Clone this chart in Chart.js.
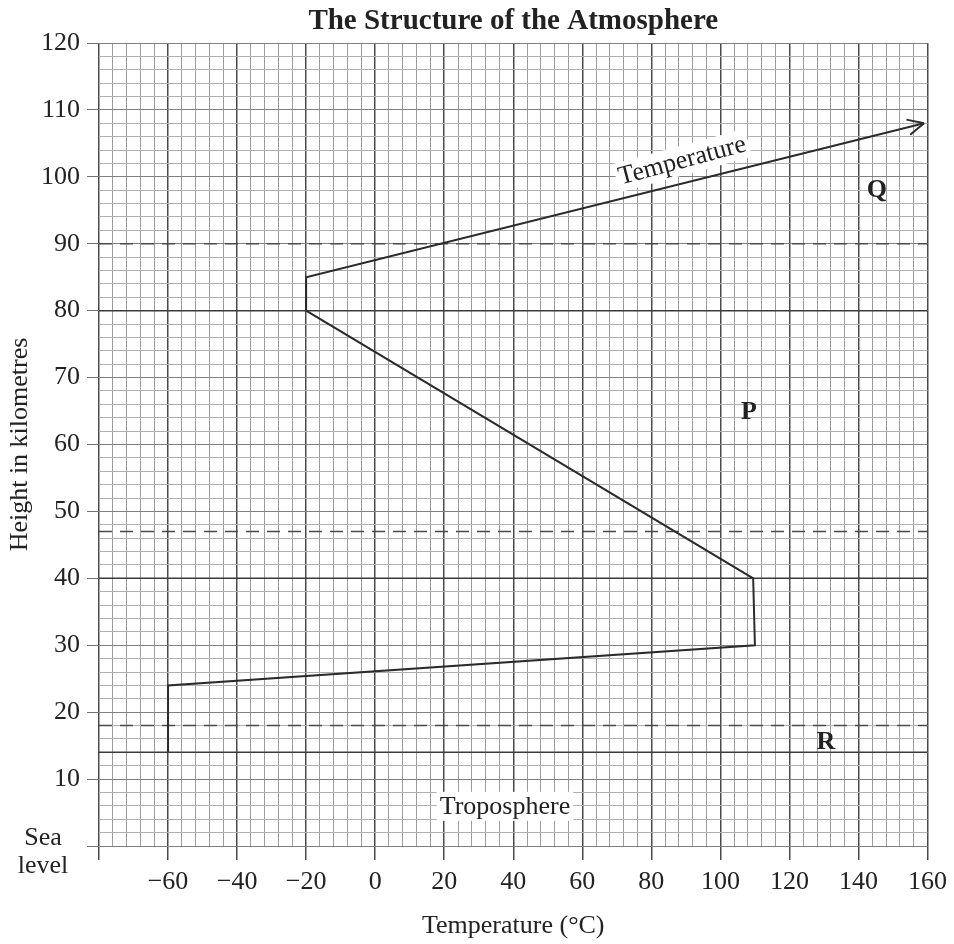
<!DOCTYPE html>
<html>
<head>
<meta charset="utf-8">
<script src="https://cdn.jsdelivr.net/npm/chart.js@4/dist/chart.umd.min.js"></script>
<style>
html, body { margin: 0; padding: 0; background: #fff; }
</style>
</head>
<body>
<canvas id="grafico" width="954" height="944"></canvas>
<script>
// temperature profile: temperature (°C) against height (km)
const tempC    = [-60, -60, 110, 109.5, -20, -20, 159];
const heightKm = [14, 24, 30, 40, 80, 85, 108];

// layer boundaries (km)
const solidLevels  = [14, 40, 80];
const dashedLevels = [18, 47, 90];

// tick labels
const xTickLabels = [-60, -40, -20, 0, 20, 40, 60, 80, 100, 120, 140, 160];
const yTickLabels = [10, 20, 30, 40, 50, 60, 70, 80, 90, 100, 110, 120];

// words written on the graph, anchored in data units
const noteText = ["Q", "P", "R", "Troposphere", "Temperature"];
const noteX    = [145.3, 108.3, 130.6, 37.6, 88.9];
const noteY    = [98.2, 64.9, 15.7, 6, 102.5];

const chartTitle = "The Structure of the Atmosphere";

const serif = "'Liberation Serif', 'Times New Roman', serif";
const ink = "#222";

const minus = v => String(v).replace("-", "\u2212");

let datasets = [
  {
    data: tempC.map((t, i) => ({ x: t, y: heightKm[i] })),
    showLine: true,
    borderColor: "#2b2b2b",
    borderWidth: 2,
    pointRadius: 0,
    tension: 0
  }
];
solidLevels.forEach(h => datasets.push({
  data: [{ x: -80, y: h }, { x: 160, y: h }],
  showLine: true, borderColor: "#3c3c3c", borderWidth: 1.5, pointRadius: 0
}));
dashedLevels.forEach(h => datasets.push({
  data: [{ x: -80, y: h }, { x: 160, y: h }],
  showLine: true, borderColor: "#4a4a4a", borderWidth: 1.5, pointRadius: 0,
  borderDash: [13, 8]
}));

// title over the plot, arrow head, "Sea level" and the words on the graph
const extras = {
  id: "extras",
  afterDatasetsDraw(chart) {
    const c = chart.ctx;
    const xs = chart.scales.x, ys = chart.scales.y;
    const area = chart.chartArea;
    const pts = chart.getDatasetMeta(0).data;
    const a = pts[pts.length - 2], b = pts[pts.length - 1];
    const ang = Math.atan2(b.y - a.y, b.x - a.x);
    c.save();
    c.strokeStyle = "#2b2b2b";
    c.lineWidth = 2;
    c.beginPath();
    [-0.45, 0.45].forEach(d => {
      c.moveTo(b.x, b.y);
      c.lineTo(b.x - 18 * Math.cos(ang + d), b.y - 18 * Math.sin(ang + d));
    });
    c.stroke();

    c.fillStyle = ink;
    c.textAlign = "center";
    c.textBaseline = "alphabetic";
    c.font = "bold 29px " + serif;
    c.fillText(chartTitle, (area.left + area.right) / 2, 29);

    c.font = "26px " + serif;
    const y0 = ys.getPixelForValue(0);
    c.fillText("Sea", 43, y0 - 1);
    c.fillText("level", 43, y0 + 27);

    noteText.forEach((t, i) => {
      const px = xs.getPixelForValue(noteX[i]);
      const py = ys.getPixelForValue(noteY[i]);
      c.save();
      c.translate(px, py);
      c.textBaseline = "middle";
      if (t.length === 1) {
        c.font = "bold 26px " + serif;
        c.fillText(t, 0, 1);
      } else {
        if (t === "Temperature") c.rotate(-15 * Math.PI / 180);
        c.font = "26px " + serif;
        const w = c.measureText(t).width;
        c.fillStyle = "#fff";
        c.fillRect(-w / 2 - 3, -14, w + 6, 29);
        c.fillStyle = ink;
        c.fillText(t, 0, 1);
      }
      c.restore();
    });
    c.restore();
  }
};

new Chart(document.querySelector("#grafico"), {
  type: "scatter",
  data: { datasets: datasets },
  options: {
    responsive: false,
    animation: false,
    layout: { padding: { left: 0, right: 26, top: 43, bottom: 0 } },
    plugins: {
      legend: { display: false },
      tooltip: { enabled: false },
      title: { display: false }
    },
    scales: {
      x: {
        type: "linear",
        min: -80,
        max: 160,
        afterFit: s => { s.height = 98; },
        border: { display: false },
        grid: {
          color: g => g.tick && g.tick.value % 20 === 0 ? "#4a4a4a" : "#9c9c9c",
          lineWidth: g => g.tick && g.tick.value % 20 === 0 ? 1.5 : 1,
          tickColor: g => g.tick && g.tick.value % 20 === 0 ? "#4a4a4a" : "rgba(0,0,0,0)",
          tickLength: 14
        },
        ticks: {
          stepSize: 4,
          autoSkip: false,
          maxRotation: 0,
          padding: 7,
          color: ink,
          font: { family: serif, size: 26 },
          callback: v => xTickLabels.includes(v) ? minus(v) : ""
        },
        title: {
          display: true,
          text: "Temperature (\u00b0C)",
          color: ink,
          font: { family: serif, size: 26 },
          padding: { top: 0, bottom: 2 }
        }
      },
      y: {
        type: "linear",
        min: 0,
        max: 120,
        afterFit: s => { s.width = 99; },
        border: { display: false },
        grid: {
          color: g => g.tick && g.tick.value % 10 === 0 ? "#808080" : "#b0b0b0",
          lineWidth: 1,
          tickColor: g => g.tick && g.tick.value % 10 === 0 ? "#707070" : "rgba(0,0,0,0)",
          tickLength: 12
        },
        ticks: {
          stepSize: 2,
          autoSkip: false,
          padding: 7,
          color: ink,
          font: { family: serif, size: 26 },
          callback: v => yTickLabels.includes(v) ? String(v) : ""
        },
        title: {
          display: true,
          text: "Height in kilometres",
          color: ink,
          font: { family: serif, size: 26 },
          padding: { top: 5, bottom: 0 }
        }
      }
    }
  },
  plugins: [extras]
});
</script>
</body>
</html>
